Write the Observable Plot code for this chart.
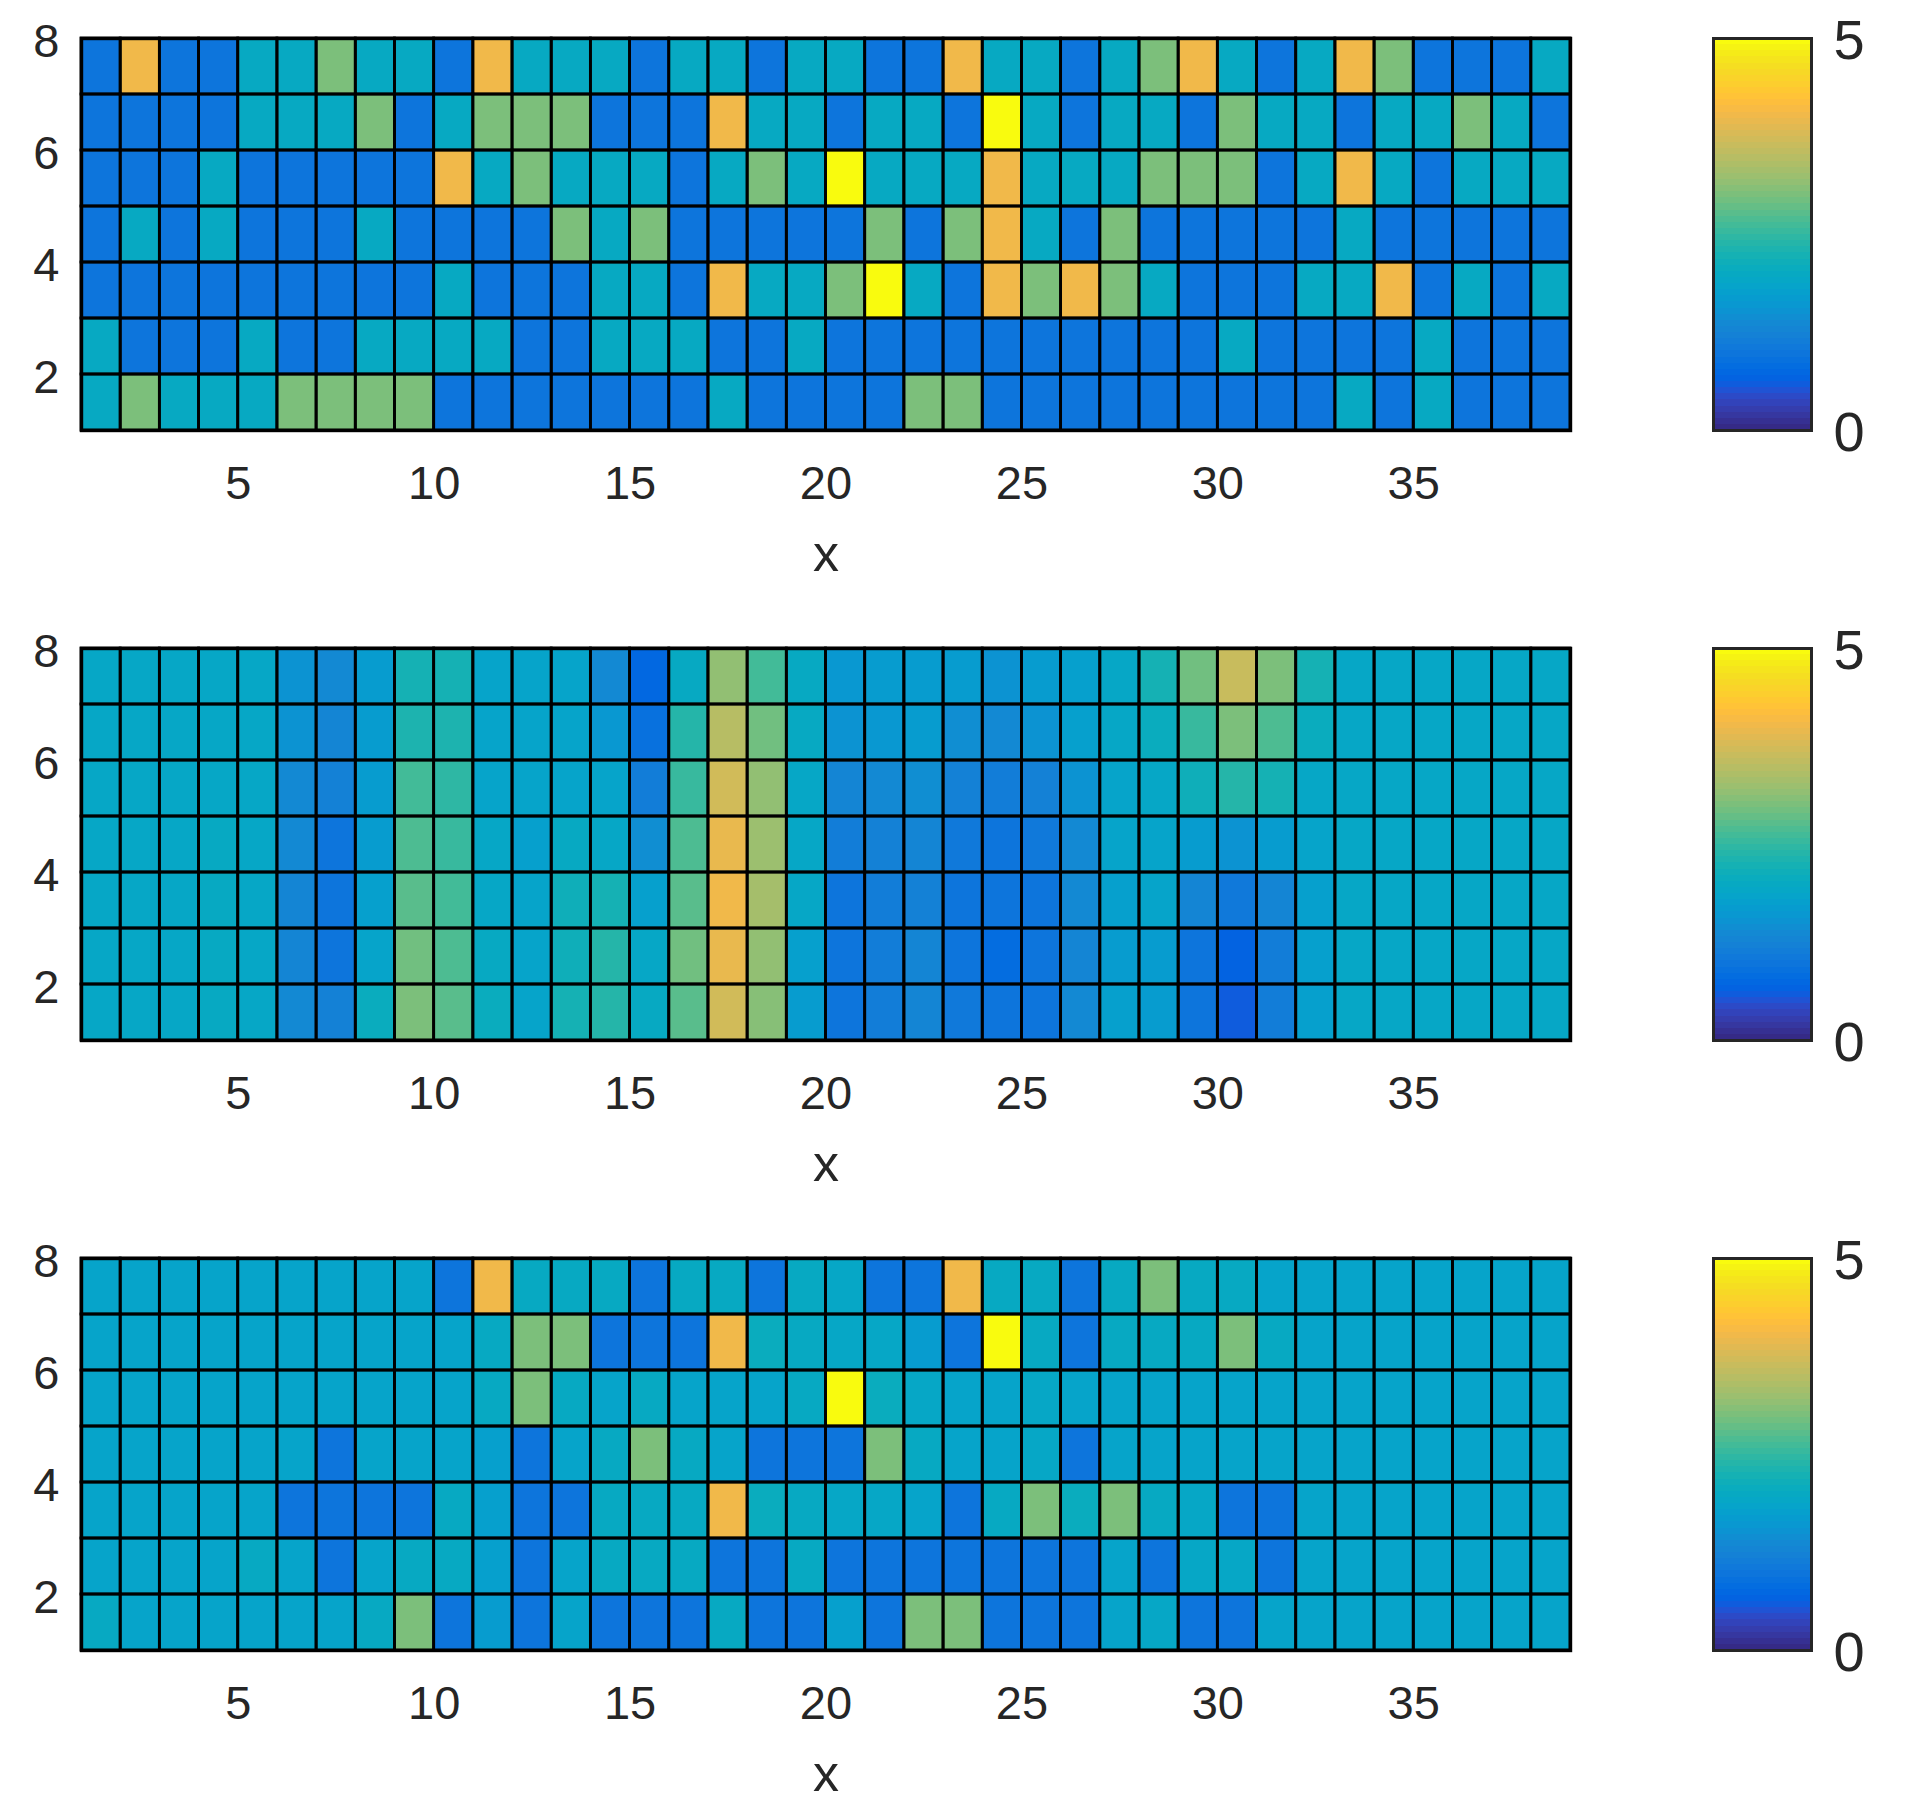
<!DOCTYPE html>
<html>
<head>
<meta charset="utf-8">
<script src="https://cdn.jsdelivr.net/npm/d3@7"></script>
<script src="https://cdn.jsdelivr.net/npm/@observablehq/plot@0.6"></script>
<style>
  body { margin: 0; background: #fff; }
  .row { display: flex; width: 1917px; }
  .row svg { flex: none; }
</style>
</head>
<body>
<div id="chart"></div>
<script>
const xTicks = [5, 10, 15, 20, 25, 30, 35]
const yTicks = [2, 4, 6, 8]
const colorTicks = [0, 5]
const xEdges = [1, 39]
const yEdges = [1, 8]
const colorEdges = [0, 5]

// cada panel: filas de arriba (y 7-8) hacia abajo (y 1-2), 38 columnas
const panelA = [
  [1,4,1,1,2,2,3,2,2,1,4,2,2,2,1,2,2,1,2,2,1,1,4,2,2,1,2,3,4,2,1,2,4,3,1,1,1,2],
  [1,1,1,1,2,2,2,3,1,2,3,3,3,1,1,1,4,2,2,1,2,2,1,5,2,1,2,2,1,3,2,2,1,2,2,3,2,1],
  [1,1,1,2,1,1,1,1,1,4,2,3,2,2,2,1,2,3,2,5,2,2,2,4,2,2,2,3,3,3,1,2,4,2,1,2,2,2],
  [1,2,1,2,1,1,1,2,1,1,1,1,3,2,3,1,1,1,1,1,3,1,3,4,2,1,3,1,1,1,1,1,2,1,1,1,1,1],
  [1,1,1,1,1,1,1,1,1,2,1,1,1,2,2,1,4,2,2,3,5,2,1,4,3,4,3,2,1,1,1,2,2,4,1,2,1,2],
  [2,1,1,1,2,1,1,2,2,2,2,1,1,2,2,2,1,1,2,1,1,1,1,1,1,1,1,1,1,2,1,1,1,1,2,1,1,1],
  [2,3,2,2,2,3,3,3,3,1,1,1,1,1,1,1,2,1,1,1,1,3,3,1,1,1,1,1,1,1,1,1,2,1,2,1,1,1]
]

// este se leyo mas facil por columnas
const panelBColumns = [
  [1.95,1.95,1.95,1.95,1.95,1.95,1.95],
  [1.95,1.95,1.95,1.95,1.95,1.95,1.95],
  [1.95,1.95,1.95,1.95,1.95,1.95,1.95],
  [1.95,1.95,1.95,2,2,2,2],
  [1.95,1.95,1.95,1.95,1.95,1.95,1.95],
  [1.55,1.55,1.4,1.35,1.3,1.3,1.4],
  [1.35,1.25,1.2,1,0.95,0.95,1.2],
  [1.7,1.7,1.7,1.7,1.75,1.85,2.05],
  [2.2,2.3,2.6,2.7,2.8,2.95,3],
  [2.2,2.3,2.45,2.5,2.65,2.7,2.8],
  [1.85,1.85,1.85,1.9,1.9,2,2.05],
  [1.8,1.8,1.8,1.75,1.8,1.8,1.8],
  [1.85,1.85,1.85,2,2.15,2.15,2.2],
  [1.4,1.6,1.8,1.95,2.2,2.35,2.35],
  [0.75,0.9,1.15,1.45,1.75,1.9,2],
  [2,2.35,2.55,2.7,2.8,2.9,2.8],
  [3.15,3.45,3.7,3.95,4.05,3.95,3.7],
  [2.65,2.95,3.15,3.25,3.3,3.2,3.05],
  [2,2,1.95,1.95,1.9,1.75,1.65],
  [1.6,1.55,1.3,1.1,1,0.95,0.95],
  [1.65,1.6,1.35,1.2,1.15,1.15,1.15],
  [1.7,1.65,1.45,1.3,1.2,1.25,1.25],
  [1.65,1.45,1.2,1.05,1,1,1.05],
  [1.55,1.35,1.15,1,0.95,0.85,0.95],
  [1.7,1.5,1.2,1.05,1,1,1],
  [1.75,1.75,1.55,1.4,1.35,1.3,1.35],
  [1.9,1.9,1.85,1.8,1.75,1.7,1.75],
  [2.2,2.05,1.9,1.85,1.8,1.7,1.65],
  [2.95,2.55,2.15,1.7,1.25,1,1],
  [3.6,3,2.35,1.55,1.05,0.68,0.6],
  [3,2.7,2.2,1.7,1.25,1.15,1.1],
  [2.25,2.1,1.95,1.85,1.75,1.75,1.75],
  [1.9,1.9,1.9,1.9,1.9,1.9,1.9],
  [1.9,1.9,1.9,1.9,1.9,1.9,1.9],
  [1.9,1.9,1.9,1.9,1.9,1.9,1.9],
  [1.9,1.9,1.9,1.9,1.9,1.9,1.9],
  [1.9,1.9,1.9,1.9,1.9,1.9,1.9],
  [1.9,1.9,1.9,1.9,1.9,1.9,1.9]
]
const panelB = d3.transpose(panelBColumns)

const panelC = [
  [1.85,1.85,1.85,1.85,1.85,1.85,1.85,1.85,1.85,1,4,2,2,2,1,2,2,1,2,1.9,1,1,4,2,2,1,2,3,2,2,1.85,1.85,1.85,1.85,1.85,1.85,1.85,1.85],
  [1.85,1.85,1.85,1.85,1.85,1.85,1.85,1.85,1.85,1.85,2,3,3,1,1,1,4,2.1,2,1.95,1.9,1.7,1,5,2,1,2,2,2,3,2,1.85,1.85,1.85,1.85,1.85,1.85,1.85],
  [1.85,1.85,1.85,1.85,1.85,1.85,1.85,1.85,1.85,1.85,2,3,2,1.85,2,1.85,1.85,1.85,2,5,2.05,1.9,1.85,1.85,1.95,1.85,1.85,1.85,1.85,1.85,1.85,1.85,1.85,1.85,1.85,1.85,1.85,1.85],
  [1.85,1.85,1.85,1.85,1.85,1.85,1,1.85,1.85,1.85,1.75,1,1.8,2,3,2,1.8,1,1,1,3,2,1.85,1.8,1.95,1,1.8,1.85,1.85,1.85,1.85,1.85,1.85,1.85,1.85,1.85,1.85,1.85],
  [1.85,1.85,1.85,1.85,1.85,1,1,1,1,2,1.75,1,1,2,2,2,4,2.05,2,1.95,1.9,1.8,1,2,3,2.05,3,2,1.9,1,1,1.85,1.85,1.85,1.85,1.85,1.85,1.85],
  [1.85,1.85,1.85,1.85,2,1.85,1,1.8,2,2,1.75,1,1.8,2,2,2,1,1,2,1,1,1,1,1,1,1,1.8,1,1.9,1.9,1,1.85,1.85,1.85,1.85,1.85,1.85,1.85],
  [2,1.85,1.85,1.85,1.85,1.85,1.85,2,3,1,1.7,1,1.8,1,1,1,2,1,1,1.75,1,3,3,1,1,1,1.85,1.9,1,1,1.85,1.85,1.85,1.85,1.85,1.85,1.85,1.85]
]

// parula de matlab, 64 niveles
const parula = [
  [0.2081,0.1663,0.5292],[0.2116,0.1898,0.5777],[0.2123,0.2138,0.6270],[0.2081,0.2386,0.6771],
  [0.1959,0.2645,0.7279],[0.1707,0.2919,0.7792],[0.1253,0.3242,0.8303],[0.0591,0.3598,0.8683],
  [0.0117,0.3875,0.8820],[0.0060,0.4086,0.8828],[0.0165,0.4266,0.8786],[0.0329,0.4430,0.8720],
  [0.0498,0.4586,0.8641],[0.0629,0.4737,0.8554],[0.0723,0.4887,0.8467],[0.0779,0.5040,0.8384],
  [0.0793,0.5200,0.8312],[0.0749,0.5375,0.8263],[0.0641,0.5570,0.8240],[0.0488,0.5772,0.8228],
  [0.0343,0.5966,0.8199],[0.0265,0.6137,0.8135],[0.0239,0.6287,0.8038],[0.0231,0.6418,0.7913],
  [0.0228,0.6535,0.7768],[0.0267,0.6642,0.7607],[0.0384,0.6743,0.7436],[0.0590,0.6838,0.7254],
  [0.0843,0.6928,0.7062],[0.1133,0.7015,0.6859],[0.1453,0.7098,0.6646],[0.1801,0.7177,0.6424],
  [0.2178,0.7250,0.6193],[0.2586,0.7317,0.5954],[0.3022,0.7376,0.5712],[0.3482,0.7424,0.5473],
  [0.3953,0.7459,0.5244],[0.4420,0.7481,0.5033],[0.4871,0.7491,0.4840],[0.5300,0.7491,0.4661],
  [0.5709,0.7485,0.4494],[0.6099,0.7473,0.4337],[0.6473,0.7456,0.4188],[0.6834,0.7435,0.4044],
  [0.7184,0.7411,0.3905],[0.7525,0.7384,0.3768],[0.7858,0.7356,0.3633],[0.8185,0.7327,0.3498],
  [0.8507,0.7299,0.3360],[0.8824,0.7274,0.3217],[0.9139,0.7258,0.3063],[0.9450,0.7261,0.2886],
  [0.9739,0.7314,0.2666],[0.9938,0.7455,0.2403],[0.9990,0.7653,0.2164],[0.9955,0.7861,0.1967],
  [0.9880,0.8066,0.1794],[0.9789,0.8271,0.1633],[0.9697,0.8481,0.1475],[0.9626,0.8705,0.1309],
  [0.9589,0.8949,0.1132],[0.9598,0.9218,0.0948],[0.9661,0.9514,0.0755],[0.9763,0.9831,0.0538]
]

const fontFamily = '"Liberation Sans", Helvetica, Arial, sans-serif'
const step = colorEdges[1] / parula.length
const color = {
  type: 'threshold',
  domain: d3.range(1, parula.length).map(i => i * step),
  range: parula.map(([r, g, b]) => d3.rgb(r * 255, g * 255, b * 255).formatHex())
}

function heatmap(rows, height, marginBottom) {
  const cells = rows.flatMap((row, i) => row.map((v, j) => ({
    x: xEdges[0] + j,
    y: yEdges[1] - i - 1,
    v
  })))
  const box = { x1: 'x', x2: d => d.x + 1, y1: 'y', y2: d => d.y + 1 }
  return Plot.plot({
    width: 1700,
    height,
    marginLeft: 81,
    marginRight: 130,
    marginTop: 38,
    marginBottom,
    style: { fontFamily, color: '#262626', background: 'transparent' },
    x: { domain: xEdges, label: null },
    y: { domain: yEdges, label: null },
    color,
    marks: [
      Plot.rect(cells, { ...box, fill: 'v' }),
      // las lineas van en una capa aparte, si no la celda siguiente las tapa
      Plot.rect(cells, { ...box, fill: 'none', stroke: '#000', strokeWidth: 2.8 }),
      Plot.frame({ stroke: '#000', strokeWidth: 3.4 }),
      Plot.axisX({ ticks: xTicks, tickFormat: 'd', tickSize: 0, tickPadding: 35, fontSize: 47, label: null, fill: '#262626' }),
      Plot.axisY({ ticks: yTicks, tickFormat: 'd', tickSize: 0, tickPadding: 22, fontSize: 47, label: null, fill: '#262626', dy: 3 }),
      Plot.text(['x'], {
        frameAnchor: 'bottom',
        lineAnchor: 'middle',
        dy: 124,
        fontSize: 52,
        fill: '#262626'
      })
    ]
  })
}

function colorbar(height, marginBottom) {
  const levels = d3.range(parula.length).map(i => ({ y1: i * step, y2: (i + 1) * step }))
  return Plot.plot({
    width: 217,
    height,
    marginLeft: 13,
    marginRight: 106,
    marginTop: 38,
    marginBottom,
    style: { fontFamily, color: '#262626', background: 'transparent' },
    x: { axis: null },
    y: { domain: colorEdges, label: null },
    color,
    marks: [
      Plot.rect(levels, {
        y1: 'y1',
        y2: 'y2',
        fill: d => (d.y1 + d.y2) / 2,
        shapeRendering: 'crispEdges'
      }),
      Plot.frame({ stroke: '#262626', strokeWidth: 3 }),
      Plot.axisY({ anchor: 'right', ticks: colorTicks, tickFormat: 'd', tickSize: 0, tickPadding: 22, fontSize: 56, label: null, fill: '#262626', dy: 3 })
    ]
  })
}

const layout = [
  { rows: panelA, height: 610, marginBottom: 180 },
  { rows: panelB, height: 610, marginBottom: 180 },
  { rows: panelC, height: 595, marginBottom: 165 }
]

layout.forEach(p => {
  const row = d3.select('#chart').append('div').attr('class', 'row')
  row.append(() => heatmap(p.rows, p.height, p.marginBottom))
  row.append(() => colorbar(p.height, p.marginBottom))
})
</script>
</body>
</html>
